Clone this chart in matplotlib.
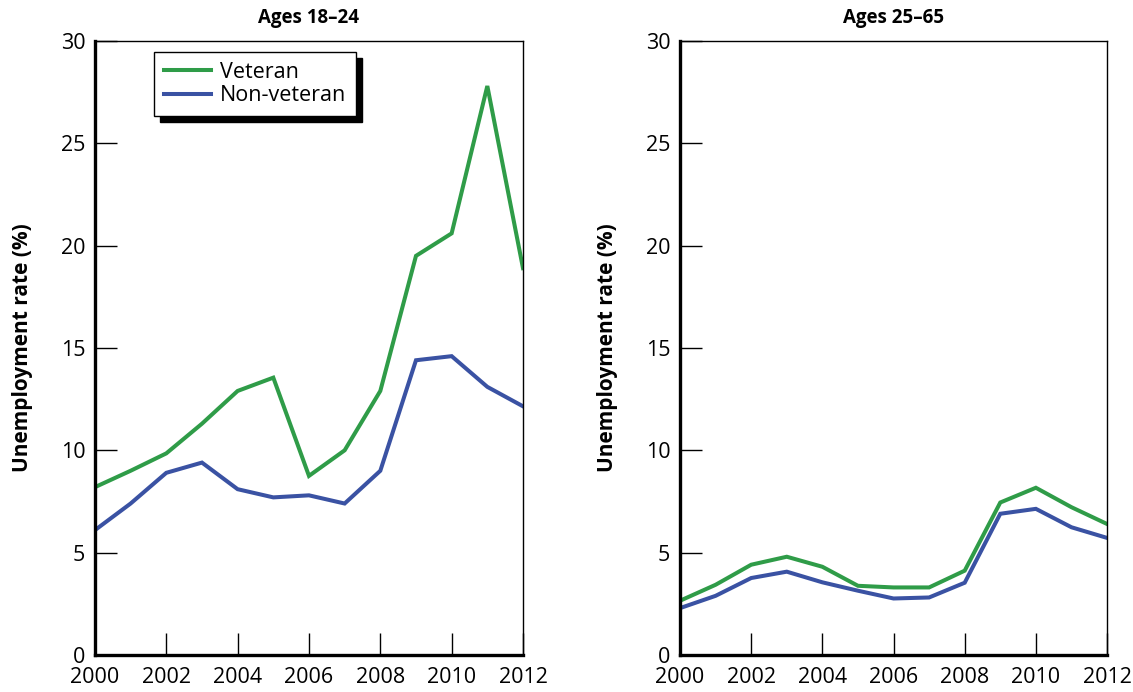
import matplotlib
matplotlib.use("Agg")
import matplotlib.pyplot as plt

plt.rcParams['font.family'] = ['Open Sans', 'DejaVu Sans']

years = list(range(2000, 2013))

# Ages 18-24
vet_young = [8.2, 9.0, 9.85, 11.3, 12.9, 13.55, 8.75, 10.0, 12.9, 19.5, 20.6, 27.8, 18.9]
nonvet_young = [6.1, 7.4, 8.9, 9.4, 8.1, 7.7, 7.8, 7.4, 9.0, 14.4, 14.6, 13.1, 12.15]

# Ages 25-65
vet_old = [2.65, 3.43, 4.41, 4.8, 4.31, 3.38, 3.3, 3.3, 4.12, 7.45, 8.17, 7.22, 6.4]
nonvet_old = [2.29, 2.89, 3.76, 4.07, 3.55, 3.14, 2.76, 2.81, 3.53, 6.9, 7.14, 6.24, 5.72]

titles = ["Ages 18\u201324", "Ages 25\u201365"]
green = "#2f9c48"
blue = "#3a52a3"

fig = plt.figure(figsize=(11.33, 6.92), dpi=100)
positions = [[0.0838, 0.0535, 0.3778, 0.8873],
             [0.6002, 0.0535, 0.3769, 0.8873]]
series = [(vet_young, nonvet_young), (vet_old, nonvet_old)]

for pos, title, (vet, nonvet) in zip(positions, titles, series):
    ax = fig.add_axes(pos)
    ax.plot(years, vet, color=green, lw=2.9, label="Veteran", solid_joinstyle="miter")
    ax.plot(years, nonvet, color=blue, lw=2.9, label="Non-veteran", solid_joinstyle="miter")
    ax.set_xlim(2000, 2012)
    ax.set_ylim(0, 30)
    ax.set_xticks(range(2000, 2013, 2))
    ax.set_yticks(range(0, 31, 5))
    ax.tick_params(direction="in", length=16, width=1, labelsize=15.5, pad=7)
    ax.tick_params(axis="x", pad=9)
    for side in ["left", "bottom"]:
        ax.spines[side].set_linewidth(2.4)
    for side in ["top", "right"]:
        ax.spines[side].set_linewidth(1.0)
    ax.set_ylabel("Unemployment rate (%)", fontsize=15, fontweight="bold", labelpad=20)
    ax.set_title(title, fontsize=13.5, fontweight="bold", pad=13)
    if title == titles[0]:
        leg = ax.legend(loc="upper left", bbox_to_anchor=(0.138, 0.982), borderaxespad=0,
                        fancybox=False, edgecolor="black", framealpha=1, fontsize=15.5,
                        handlelength=2.2, handletextpad=0.4, borderpad=0.45, labelspacing=0.12,
                        shadow={"ox": 4.3, "oy": -4.3, "color": "black", "alpha": 1})
        leg.get_frame().set_linewidth(1.0)

fig.savefig("out.png", dpi=100)
